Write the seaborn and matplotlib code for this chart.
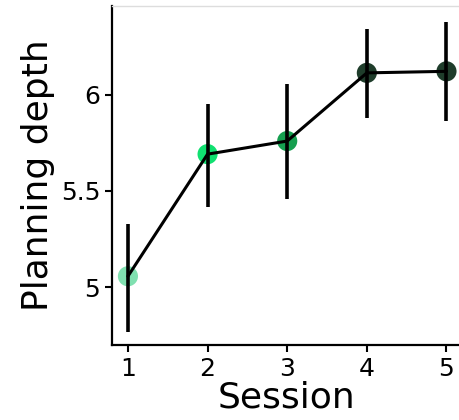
import numpy as np
import matplotlib
matplotlib.use("Agg")
import matplotlib.pyplot as plt
import pandas as pd
import seaborn as sns

sessions = [1, 2, 3, 4, 5]
depth_mean = [5.057, 5.691, 5.759, 6.113, 6.121]
depth_lo = [4.77, 5.417, 5.458, 5.88, 5.863]
depth_hi = [5.328, 5.953, 6.057, 6.339, 6.375]
point_colors = ["#80e0b0", "#10e070", "#169f50", "#1f3d2b", "#1f3d2b"]

df = pd.DataFrame({"Session": sessions, "depth": depth_mean,
                   "lo": depth_lo, "hi": depth_hi})

sns.set_style("ticks", {"text.color": "black", "axes.labelcolor": "black",
                        "xtick.color": "black", "ytick.color": "black"})
fig = plt.figure(figsize=(4.6, 4.2), dpi=100)
ax = fig.add_axes([0.2435, 0.1786, 0.76, 0.807])

sns.scatterplot(data=df, x="Session", y="depth", hue="Session",
                palette=point_colors, s=210, linewidth=0, legend=False,
                ax=ax, zorder=2)
ax.vlines(df["Session"], df["lo"], df["hi"], color="black", linewidth=2.6, zorder=3)
sns.lineplot(data=df, x="Session", y="depth", color="black", linewidth=2.2,
             ax=ax, zorder=4)

ax.set_xlim(0.8, 5.19)
ax.set_ylim(4.70, 6.46)
ax.set_xticks(sessions)
ax.set_yticks([5, 5.5, 6])
ax.set_yticklabels(["5", "5.5", "6"])
ax.tick_params(labelsize=18, width=1.5, length=5, color="black", labelcolor="black")
ax.set_xlabel("Session", fontsize=26, labelpad=0, color="black")
ax.set_ylabel("Planning depth", fontsize=26, labelpad=4, color="black")

for side in ["left", "bottom"]:
    ax.spines[side].set_linewidth(1.6)
    ax.spines[side].set_color("black")
ax.spines["top"].set_color("#dddddd")
ax.spines["top"].set_linewidth(1.0)
ax.spines["right"].set_visible(False)

plt.savefig("out.png", dpi=100)
